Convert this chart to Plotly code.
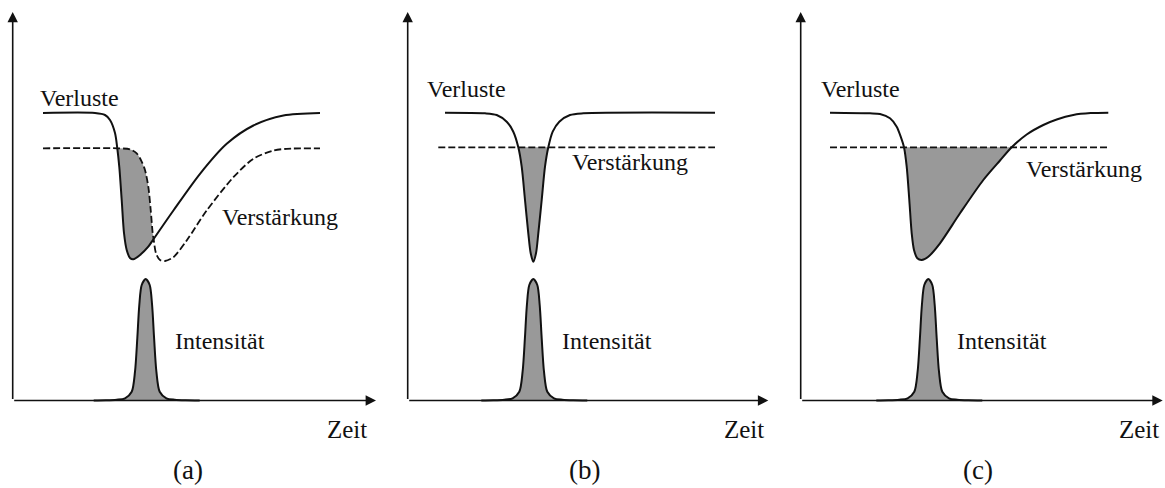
import plotly.graph_objects as go

# ---------------------------------------------------------------------------
# Schematic of loss / gain dynamics during pulse formation, three regimes.
# Time t runs along each panel's horizontal axis, level is the vertical value.
# ---------------------------------------------------------------------------

# (a) slow loss recovery with gain saturation
loss_a_t = [30.3, 82.3, 92.3, 97.3, 102.3, 104.6, 106.6, 109.0, 111.3, 114.0,
            117.3, 120.6, 127.3, 135.6, 140.9, 160.7, 187.3, 214.0, 240.7,
            270.7, 307.3]
loss_a_v = [287.5, 287.5, 285.5, 280.5, 267.5, 252.2, 233.5, 200.5, 167.5, 150.5,
            142.5, 141.2, 145.5, 153.8, 161.5, 190.0, 226.7, 256.7, 275.0,
            285.0, 287.5]
gain_a_t = [30.3, 104.6, 117.3, 124.0, 129.0, 132.3, 135.6, 138.0, 140.0, 140.9,
            143.3, 147.3, 152.3, 160.7, 174.0, 194.0, 220.7, 240.7, 260.7,
            274.0, 307.3]
gain_a_v = [252.2, 252.2, 251.2, 247.2, 238.8, 230.5, 213.8, 190.5, 167.2, 161.5,
            147.2, 140.5, 139.5, 143.3, 160.0, 190.0, 223.3, 241.7, 250.0,
            251.7, 252.2]
net_gain_a = (104.6, 140.9)

# (b) fast saturable absorber, constant gain
loss_b_t = [37.3, 77.3, 89.0, 99.0, 105.6, 110.6, 114.0, 117.3, 120.6, 123.0,
            125.6, 128.3, 130.6, 134.0, 137.3, 140.6, 145.0, 151.6, 162.3,
            175.6, 307.3]
loss_b_v = [287.8, 287.2, 285.5, 278.8, 268.8, 253.2, 233.8, 200.5, 167.2, 147.2,
            138.8, 147.2, 167.2, 200.5, 233.8, 253.2, 268.8, 278.8, 285.5,
            287.2, 287.8]
gain_b_t = [30.6, 307.3]
gain_b_v = [253.2, 253.2]
net_gain_b = (110.6, 140.6)

# (c) slow saturable absorber, constant gain
loss_c_t = [29.3, 69.3, 79.3, 89.3, 96.0, 100.0, 103.3, 106.0, 108.6, 111.0,
            113.3, 116.6, 121.0, 127.6, 139.3, 159.3, 182.6, 199.3, 211.0,
            226.0, 242.6, 256.0, 272.6, 290.0, 307.6]
loss_c_v = [287.8, 287.2, 286.5, 282.2, 273.8, 263.8, 253.2, 233.8, 200.5, 167.2,
            150.5, 142.2, 140.5, 143.8, 157.2, 187.2, 220.5, 240.0, 253.2,
            266.0, 275.5, 281.0, 285.5, 287.4, 287.8]
gain_c_t = [29.3, 309.3]
gain_c_v = [253.2, 253.2]
net_gain_c = (103.3, 211.0)

# pulse intensity profile (time relative to the peak) and peak times
pulse_dt = [-52.0, -40.0, -29.0, -20.7, -14.0, -10.7, -8.4, -6.4, -4.0, 0.0,
            4.0, 6.4, 8.4, 10.7, 14.0, 20.7, 29.0, 40.0, 54.0]
pulse_i = [0.0, 0.2, 0.8, 2.2, 8.8, 28.8, 62.2, 95.5, 115.5, 121.5,
           115.5, 95.5, 62.2, 28.8, 8.8, 2.2, 0.8, 0.2, 0.0]
pulse_peak = {"a": 133.0, "b": 125.6, "c": 127.6}

# text labels
loss_label = "Verluste"
gain_label = "Verstärkung"
pulse_label = "Intensität"
time_label = "Zeit"
panel_tags = ["(a)", "(b)", "(c)"]

# ---------------------------------------------------------------------------
W, H = 1165, 488
INK = "#111111"
SHADE = "#999999"
FONT = "Liberation Serif, Times New Roman, serif"
DASH = "7px,3px"

panels = [
    dict(key="a", xa="x", origin=12.7, rng=(-12.7, 379.3), tip=363.3,
         loss=(loss_a_t, loss_a_v), gain=(gain_a_t, gain_a_v), win=net_gain_a,
         lbl_loss=(25.5, 302.5), lbl_gain=(207.5, 183.5), lbl_pulse=(160.5, 59.5),
         lbl_time=312.5, tag_x=175.1),
    dict(key="b", xa="x2", origin=407.7, rng=(-12.0, 380.0), tip=360.6,
         loss=(loss_b_t, loss_b_v), gain=(gain_b_t, gain_b_v), win=net_gain_b,
         lbl_loss=(17.5, 312.0), lbl_gain=(162.5, 238.5), lbl_pulse=(152.5, 59.5),
         lbl_time=313.8, tag_x=176.3),
    dict(key="c", xa="x3", origin=800.7, rng=(-12.0, 364.3), tip=362.0,
         loss=(loss_c_t, loss_c_v), gain=(gain_c_t, gain_c_v), win=net_gain_c,
         lbl_loss=(18.5, 312.0), lbl_gain=(222.8, 231.8), lbl_pulse=(154.5, 59.5),
         lbl_time=315.8, tag_x=177.3),
]

fig = go.Figure()
annotations = []

for p, tag in zip(panels, panel_tags):
    xa = p["xa"]
    lt, lv = p["loss"]
    gt, gv = p["gain"]
    t0, t1 = p["win"]

    # shaded net-gain window
    if p["key"] == "a":
        sel_g = [(t, v) for t, v in zip(gt, gv) if t0 <= t <= t1]
        sel_l = [(t, v) for t, v in zip(lt, lv) if t0 <= t <= t1]
        fig.add_trace(go.Scatter(x=[s[0] for s in sel_g], y=[s[1] for s in sel_g],
                                 xaxis=xa, yaxis="y", mode="lines",
                                 line=dict(width=0, shape="spline", smoothing=0.8),
                                 hoverinfo="skip", showlegend=False))
        fig.add_trace(go.Scatter(x=[s[0] for s in sel_l], y=[s[1] for s in sel_l],
                                 xaxis=xa, yaxis="y", mode="lines", fill="tonexty",
                                 fillcolor=SHADE,
                                 line=dict(width=0, shape="spline", smoothing=0.8),
                                 hoverinfo="skip", showlegend=False))
    else:
        sel_l = [(t, v) for t, v in zip(lt, lv) if t0 <= t <= t1]
        fig.add_trace(go.Scatter(x=[s[0] for s in sel_l], y=[s[1] for s in sel_l],
                                 xaxis=xa, yaxis="y", mode="lines", fill="toself",
                                 fillcolor=SHADE,
                                 line=dict(width=0, shape="spline", smoothing=0.8),
                                 hoverinfo="skip", showlegend=False))

    # gain (dashed) and loss (solid)
    fig.add_trace(go.Scatter(x=gt, y=gv, xaxis=xa, yaxis="y", mode="lines",
                             line=dict(color=INK, width=1.8, dash=DASH,
                                       shape="spline", smoothing=0.8),
                             hoverinfo="skip", showlegend=False))
    fig.add_trace(go.Scatter(x=lt, y=lv, xaxis=xa, yaxis="y", mode="lines",
                             line=dict(color=INK, width=2, shape="spline",
                                       smoothing=0.8),
                             hoverinfo="skip", showlegend=False))

    # pulse
    px = [pulse_peak[p["key"]] + d for d in pulse_dt]
    fig.add_trace(go.Scatter(x=px, y=pulse_i, xaxis=xa, yaxis="y", mode="lines",
                             fill="tozeroy", fillcolor=SHADE,
                             line=dict(color=INK, width=2, shape="spline",
                                       smoothing=0.8),
                             hoverinfo="skip", showlegend=False))

    # axes with arrow heads
    for (hx, hy) in [(p["tip"], 0.0), (0.0, 388.6)]:
        annotations.append(dict(x=hx, y=hy, ax=0.0, ay=0.0, xref=xa, yref="y",
                                axref=xa, ayref="y", text="", showarrow=True,
                                arrowhead=2, arrowsize=1.3, arrowwidth=1.6,
                                arrowcolor=INK, standoff=0, startstandoff=0))

    # labels
    def label(txt, x, y, anchor="left", size=24):
        annotations.append(dict(x=x, y=y, xref=xa, yref="y", text=txt,
                                showarrow=False, xanchor=anchor, yanchor="middle",
                                font=dict(family=FONT, size=size, color=INK)))

    label(loss_label, *p["lbl_loss"])
    label(gain_label, *p["lbl_gain"])
    label(pulse_label, *p["lbl_pulse"])
    label(time_label, p["lbl_time"], -28.5, size=25)
    label(tag, p["tag_x"], -69.0, anchor="center", size=27)

layout_axes = {}
for p in panels:
    name = "xaxis" if p["xa"] == "x" else "xaxis" + p["xa"][1:]
    lo, hi = p["rng"]
    layout_axes[name] = dict(domain=[(p["origin"] + lo) / W, min(1.0, (p["origin"] + hi) / W)],
                             range=[lo, hi], anchor="y", visible=False, fixedrange=True)

fig.update_layout(
    width=W, height=H,
    margin=dict(l=0, r=0, t=0, b=0, pad=0),
    paper_bgcolor="white", plot_bgcolor="white",
    yaxis=dict(domain=[0, 1], range=[-87.5, 400.5], anchor="x", visible=False,
               fixedrange=True),
    annotations=annotations,
    showlegend=False,
    **layout_axes,
)

fig.write_html("out.html", config={"displayModeBar": False})
